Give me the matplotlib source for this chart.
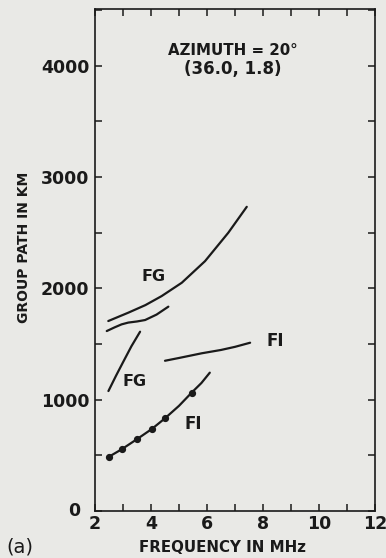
import matplotlib.pyplot as plt
from matplotlib.ticker import MultipleLocator, FuncFormatter

# group path vs frequency, azimuth 20 deg
fi_low_f = [2.5, 2.95, 3.49, 4.03, 4.5, 5.0, 5.45, 5.8, 6.1]
fi_low_g = [488, 554, 644, 737, 833, 945, 1063, 1150, 1243]
fi_dot_f = [2.5, 2.95, 3.49, 4.03, 4.5, 5.45]
fi_dot_g = [488, 554, 644, 737, 833, 1063]

fi_high_f = [4.5, 5.0, 5.81, 6.5, 7.0, 7.54]
fi_high_g = [1350, 1375, 1417, 1447, 1475, 1512]

fg_steep_f = [2.48, 2.75, 3.01, 3.3, 3.61]
fg_steep_g = [1078, 1215, 1341, 1480, 1611]

fg_mid_f = [2.42, 2.7, 2.95, 3.19, 3.5, 3.79, 4.2, 4.62]
fg_mid_g = [1617, 1650, 1677, 1693, 1703, 1716, 1765, 1836]

fg_top_f = [2.475, 3.19, 3.8, 4.38, 5.1, 5.93, 6.76, 7.42]
fg_top_g = [1707, 1782, 1850, 1931, 2051, 2245, 2500, 2733]

BG = '#e9e9e6'
INK = '#1a1a1a'

fig = plt.figure(figsize=(3.86, 5.58), dpi=100, facecolor=BG)
ax = fig.add_axes([0.2461, 0.0842, 0.7254, 0.8996], facecolor=BG)

for f, g in [(fi_low_f, fi_low_g), (fi_high_f, fi_high_g), (fg_steep_f, fg_steep_g),
             (fg_mid_f, fg_mid_g), (fg_top_f, fg_top_g)]:
    ax.plot(f, g, color=INK, lw=1.6, solid_capstyle='round', solid_joinstyle='round')
ax.plot(fi_dot_f, fi_dot_g, 'o', color=INK, ms=4.2)

ax.set_xlim(2, 12)
ax.set_ylim(0, 4510)
ax.xaxis.set_major_locator(MultipleLocator(2))
ax.xaxis.set_minor_locator(MultipleLocator(1))
ax.yaxis.set_major_locator(MultipleLocator(1000))
ax.yaxis.set_minor_locator(MultipleLocator(500))
# zero gets its own label further out, below
ax.yaxis.set_major_formatter(FuncFormatter(lambda v, p: '' if v == 0 else f'{v:.0f}'))
ax.tick_params(which='both', direction='in', top=True, right=True, color=INK, width=1.1,
               length=5, labelsize=12.5, labelcolor=INK)
ax.tick_params(axis='y', pad=4)
ax.tick_params(axis='x', pad=3)
for lab in ax.get_xticklabels() + ax.get_yticklabels():
    lab.set_fontweight('bold')
for s in ax.spines.values():
    s.set_color(INK)
    s.set_linewidth(1.2)

txt = dict(color=INK, fontweight='bold', ha='center', va='center')
ax.text(-0.075, 0, '0', fontsize=12.5, color=INK, fontweight='bold', ha='center', va='center',
        transform=ax.get_yaxis_transform())
ax.text(4.08, 2108, 'FG', fontsize=11.5, **txt)
ax.text(3.43, 1162, 'FG', fontsize=11.5, **txt)
ax.text(8.43, 1530, 'FI', fontsize=12, **txt)
ax.text(5.51, 782, 'FI', fontsize=12, **txt)
ax.text(6.93, 4140, 'AZIMUTH = 20°', fontsize=10.8, **txt)
ax.text(6.93, 3975, '(36.0, 1.8)', fontsize=12, **txt)

ax.set_xlabel('FREQUENCY IN MHz', fontsize=10.8, **txt)
ax.xaxis.set_label_coords(0.457, -0.072)
ax.set_ylabel('GROUP PATH IN KM', fontsize=10, **txt)
ax.yaxis.set_label_coords(-0.253, 0.525)
fig.text(0.052, 0.02, '(a)', fontsize=14, color=INK, ha='center', va='center')

fig.savefig('out.png', dpi=100, facecolor=BG)
